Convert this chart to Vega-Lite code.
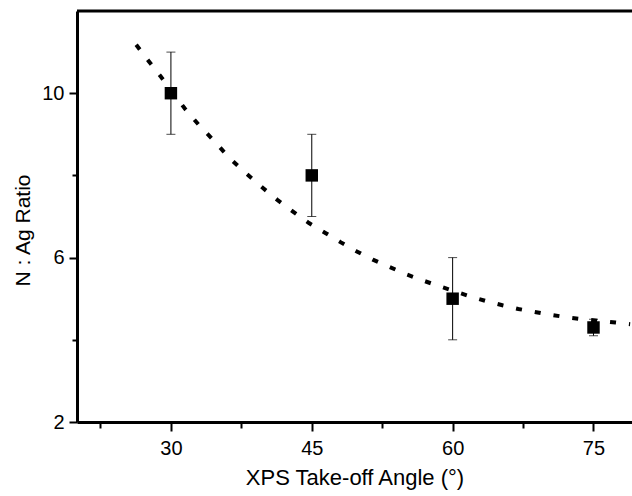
{
  "$schema": "https://vega.github.io/schema/vega-lite/v6.json",
  "autosize": "none",
  "width": 555,
  "height": 411,
  "padding": {"left": 77, "top": 11, "right": 0, "bottom": 74},
  "background": "white",
  "config": {
    "view": {"stroke": null},
    "font": "Liberation Sans",
    "axis": {
      "grid": false,
      "domainColor": "black",
      "domainWidth": 3,
      "tickColor": "black",
      "tickWidth": 2,
      "labelColor": "black",
      "labelFont": "Liberation Sans",
      "labelFontSize": 20,
      "titleFont": "Liberation Sans",
      "titleFontSize": 21,
      "titleFontWeight": "normal",
      "titleColor": "black"
    }
  },
  "datasets": {
    "points": [
      {"angle": 30, "ratio": 10.0, "lo": 9.0, "hi": 11.0},
      {"angle": 45, "ratio": 8.0, "lo": 7.0, "hi": 9.0},
      {"angle": 60, "ratio": 5.0, "lo": 4.0, "hi": 6.0},
      {"angle": 75, "ratio": 4.3, "lo": 4.1, "hi": 4.5}
    ],
    "frame": [
      {"top": 12}
    ],
    "curve": [
      {"angle": 26.3, "ratio": 11.18},
      {"angle": 27.6, "ratio": 10.79},
      {"angle": 28.9, "ratio": 10.41},
      {"angle": 31.5, "ratio": 9.62},
      {"angle": 33.0, "ratio": 9.22},
      {"angle": 34.6, "ratio": 8.84},
      {"angle": 36.2, "ratio": 8.43},
      {"angle": 37.9, "ratio": 8.07},
      {"angle": 39.6, "ratio": 7.73},
      {"angle": 41.3, "ratio": 7.41},
      {"angle": 43.0, "ratio": 7.12},
      {"angle": 44.7, "ratio": 6.84},
      {"angle": 46.45, "ratio": 6.6},
      {"angle": 48.1, "ratio": 6.37},
      {"angle": 49.8, "ratio": 6.15},
      {"angle": 51.5, "ratio": 5.95},
      {"angle": 53.3, "ratio": 5.77},
      {"angle": 55.0, "ratio": 5.6},
      {"angle": 56.75, "ratio": 5.45},
      {"angle": 58.5, "ratio": 5.31},
      {"angle": 61.8, "ratio": 5.06},
      {"angle": 63.6, "ratio": 4.94},
      {"angle": 65.3, "ratio": 4.84},
      {"angle": 67.0, "ratio": 4.75},
      {"angle": 68.7, "ratio": 4.68},
      {"angle": 70.4, "ratio": 4.61},
      {"angle": 72.1, "ratio": 4.55},
      {"angle": 73.9, "ratio": 4.5},
      {"angle": 77.35, "ratio": 4.42},
      {"angle": 78.9, "ratio": 4.38}
    ]
  },
  "layer": [
    {
      "data": {"name": "curve"},
      "mark": {"type": "line", "color": "black", "strokeWidth": 4, "strokeDash": [6, 13], "clip": true},
      "encoding": {
        "x": {
          "field": "angle", "type": "quantitative",
          "scale": {"domain": [20, 79.1], "nice": false, "zero": false},
          "axis": {
            "title": "XPS Take-off Angle (°)",
            "titleFontSize": 22,
            "values": [22.5, 30, 37.5, 45, 52.5, 60, 67.5, 75],
            "labelExpr": "datum.value % 15 === 0 ? datum.label : ''",
            "tickSize": {"condition": {"test": "datum.value % 15 === 0", "value": 9}, "value": 6},
            "labelPadding": 7,
            "titlePadding": 9
          }
        },
        "y": {
          "field": "ratio", "type": "quantitative",
          "scale": {"domain": [2, 12], "nice": false, "zero": false},
          "axis": {
            "title": "N : Ag Ratio",
            "values": [2, 4, 6, 8, 10],
            "labelExpr": "datum.value % 4 === 2 ? datum.label : ''",
            "tickSize": {"condition": {"test": "datum.value % 4 === 2", "value": 8}, "value": 5},
            "labelPadding": 5,
            "titlePadding": 8,
            "titleY": 219
          }
        }
      }
    },
    {
      "data": {"name": "frame"},
      "mark": {"type": "rule", "color": "black", "strokeWidth": 3},
      "encoding": {"y": {"field": "top", "type": "quantitative"}}
    },
    {
      "data": {"name": "points"},
      "mark": {"type": "rule", "color": "black", "strokeWidth": 1},
      "encoding": {
        "x": {"field": "angle", "type": "quantitative"},
        "y": {"field": "lo", "type": "quantitative"},
        "y2": {"field": "hi"}
      }
    },
    {
      "data": {"name": "points"},
      "mark": {"type": "tick", "color": "black", "orient": "horizontal", "size": 9, "thickness": 1},
      "encoding": {
        "x": {"field": "angle", "type": "quantitative"},
        "y": {"field": "lo", "type": "quantitative"}
      }
    },
    {
      "data": {"name": "points"},
      "mark": {"type": "tick", "color": "black", "orient": "horizontal", "size": 9, "thickness": 1},
      "encoding": {
        "x": {"field": "angle", "type": "quantitative"},
        "y": {"field": "hi", "type": "quantitative"}
      }
    },
    {
      "data": {"name": "points"},
      "mark": {"type": "point", "shape": "square", "filled": true, "color": "black", "opacity": 1, "size": 155},
      "encoding": {
        "x": {"field": "angle", "type": "quantitative"},
        "y": {"field": "ratio", "type": "quantitative"}
      }
    }
  ]
}
